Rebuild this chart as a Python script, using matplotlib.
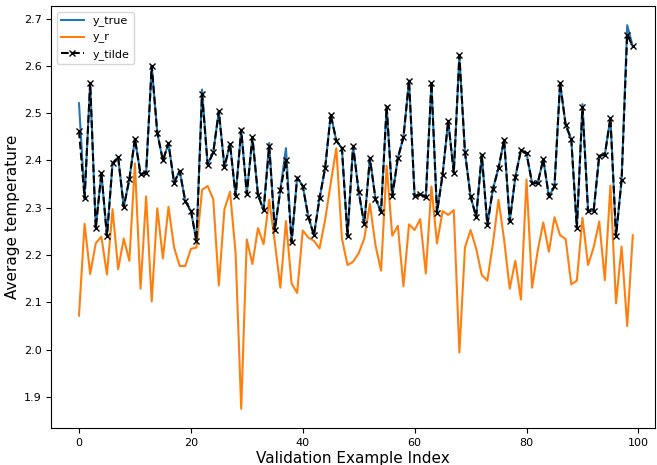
import numpy as np
import matplotlib
matplotlib.use("Agg")
import matplotlib.pyplot as plt

# values (index 0..99)
y_true = [2.521, 2.320, 2.564, 2.257, 2.374, 2.240, 2.394, 2.407, 2.302, 2.360,
          2.446, 2.371, 2.374, 2.600, 2.458, 2.400, 2.436, 2.353, 2.378, 2.314,
          2.294, 2.230, 2.550, 2.391, 2.417, 2.504, 2.386, 2.435, 2.325, 2.465,
          2.329, 2.449, 2.327, 2.295, 2.437, 2.253, 2.338, 2.426, 2.227, 2.364,
          2.346, 2.281, 2.242, 2.320, 2.384, 2.497, 2.442, 2.426, 2.240, 2.431,
          2.334, 2.265, 2.405, 2.319, 2.292, 2.514, 2.324, 2.405, 2.449, 2.569,
          2.324, 2.329, 2.322, 2.564, 2.290, 2.370, 2.484, 2.374, 2.622, 2.417,
          2.324, 2.281, 2.412, 2.264, 2.340, 2.384, 2.444, 2.271, 2.365, 2.422,
          2.415, 2.352, 2.352, 2.403, 2.324, 2.345, 2.564, 2.475, 2.445, 2.257,
          2.519, 2.294, 2.293, 2.410, 2.412, 2.490, 2.240, 2.359, 2.686, 2.641]

y_tilde = [2.463, 2.320, 2.564, 2.257, 2.374, 2.240, 2.394, 2.407, 2.302, 2.360,
           2.446, 2.371, 2.374, 2.600, 2.458, 2.400, 2.436, 2.353, 2.378, 2.314,
           2.294, 2.230, 2.540, 2.391, 2.417, 2.504, 2.386, 2.435, 2.325, 2.465,
           2.329, 2.449, 2.327, 2.295, 2.430, 2.253, 2.338, 2.400, 2.227, 2.364,
           2.346, 2.281, 2.242, 2.320, 2.384, 2.497, 2.442, 2.426, 2.240, 2.431,
           2.334, 2.265, 2.405, 2.319, 2.292, 2.514, 2.324, 2.405, 2.449, 2.569,
           2.324, 2.329, 2.322, 2.564, 2.290, 2.370, 2.484, 2.374, 2.622, 2.417,
           2.324, 2.281, 2.412, 2.264, 2.340, 2.384, 2.444, 2.271, 2.365, 2.422,
           2.415, 2.352, 2.352, 2.403, 2.324, 2.345, 2.564, 2.475, 2.445, 2.257,
           2.512, 2.294, 2.293, 2.410, 2.412, 2.490, 2.240, 2.359, 2.666, 2.641]

y_r = [2.072, 2.266, 2.160, 2.225, 2.239, 2.159, 2.297, 2.170, 2.235, 2.188,
       2.394, 2.129, 2.324, 2.102, 2.299, 2.193, 2.302, 2.216, 2.177, 2.177,
       2.213, 2.216, 2.338, 2.346, 2.318, 2.136, 2.297, 2.334, 2.204, 1.875,
       2.233, 2.181, 2.257, 2.223, 2.317, 2.228, 2.131, 2.272, 2.140, 2.120,
       2.252, 2.237, 2.230, 2.214, 2.274, 2.352, 2.426, 2.235, 2.179, 2.186,
       2.204, 2.235, 2.308, 2.221, 2.167, 2.389, 2.241, 2.262, 2.134, 2.265,
       2.253, 2.276, 2.161, 2.345, 2.225, 2.293, 2.285, 2.295, 1.994, 2.216,
       2.253, 2.214, 2.158, 2.146, 2.225, 2.317, 2.232, 2.129, 2.188, 2.106,
       2.360, 2.131, 2.209, 2.269, 2.207, 2.280, 2.242, 2.234, 2.138, 2.146,
       2.279, 2.179, 2.216, 2.271, 2.147, 2.347, 2.098, 2.218, 2.050, 2.242]

idx = np.arange(len(y_true))

fig = plt.figure(figsize=(6.57, 4.65), dpi=100)
ax = fig.add_axes([51.3 / 657, 1 - 428 / 465, 603.7 / 657, 422 / 465])

ax.plot(idx, y_true, color="C0", lw=1.5, label="y_true")
ax.plot(idx, y_r, color="C1", lw=1.5, label="y_r")
ax.plot(idx, y_tilde, "kx--", lw=1.5, ms=5, label="y_tilde")

# reference frame is slightly tighter on the right than the default margin
ax.set_xlim(-4.95, 102.97)

ax.set_xlabel("Validation Example Index", fontsize=11, labelpad=2)
ax.set_ylabel("Average temperature", fontsize=11, labelpad=3)
ax.tick_params(labelsize=8)
ax.legend(loc="upper left", fontsize=8)

fig.savefig("out.png", dpi=100)
